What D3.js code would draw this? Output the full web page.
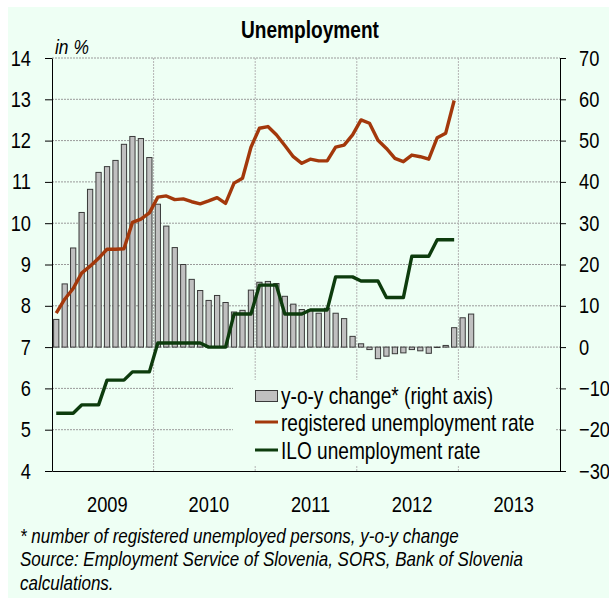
<!DOCTYPE html>
<html>
<head>
<meta charset="utf-8">
<script src="https://cdn.jsdelivr.net/npm/d3@7"></script>
<style>
  body { margin: 0; background: #fff; }
  svg text { font-family: "Liberation Sans", Arial, sans-serif; fill: #000; }
</style>
</head>
<body>
<svg id="chart" width="609" height="598"></svg>
<script>
(function() {
  'use strict';

  // monthly observations, Jan 2009 onwards
  var years = ['2009', '2010', '2011', '2012', '2013'];
  var yoyChange = [6.7, 15.3, 24.0, 32.6, 38.2, 42.3, 43.7, 45.2, 49.1, 51.0, 50.5, 45.9,
    34.6, 29.3, 24.1, 20.0, 16.4, 13.7, 11.3, 12.5, 10.8, 8.5, 8.9, 13.8,
    15.7, 15.9, 15.4, 12.3, 10.4, 9.1, 9.0, 8.2, 9.4, 8.2, 6.9, 2.6,
    0.8, -0.6, -2.8, -2.2, -1.6, -1.4, -0.6, -0.9, -1.5, -0.1, 0.4, 4.7,
    7.1, 8.0];
  var registeredRate = [7.82, 8.16, 8.42, 8.79, 8.96, 9.15, 9.37, 9.37, 9.38, 10.02, 10.10, 10.25,
    10.63, 10.66, 10.57, 10.59, 10.52, 10.47, 10.54, 10.62, 10.48, 10.97, 11.09, 11.84,
    12.30, 12.34, 12.14, 11.88, 11.61, 11.45, 11.55, 11.51, 11.51, 11.84, 11.89, 12.14,
    12.50, 12.42, 12.01, 11.81, 11.57, 11.49, 11.65, 11.61, 11.55, 12.07, 12.18, 12.97];
  var iloRate = [5.4, 5.4, 5.4, 5.6, 5.6, 5.6, 6.2, 6.2, 6.2, 6.4, 6.4, 6.4,
    7.1, 7.1, 7.1, 7.1, 7.1, 7.1, 7.0, 7.0, 7.0, 7.8, 7.8, 7.8,
    8.5, 8.5, 8.5, 7.8, 7.8, 7.8, 7.9, 7.9, 7.9, 8.7, 8.7, 8.7,
    8.6, 8.6, 8.6, 8.2, 8.2, 8.2, 9.2, 9.2, 9.2, 9.6, 9.6, 9.6];
  var legendLabels = ['y-o-y change* (right axis)', 'registered unemployment rate', 'ILO unemployment rate'];
  var footnotes = ['* number of registered unemployed persons, y-o-y change',
    'Source: Employment Service of Slovenia, SORS, Bank of Slovenia',
    'calculations.'];

  var colors = { bg: '#eefff4', bar: '#c0c0c0', barStroke: '#3a3a3a', reg: '#a3380b', ilo: '#0d3c0d', grid: '#9a9a9a' };
  var plot = { left: 52, right: 560, top: 58, bottom: 471 };
  var SQ = 0.83; // the original uses a narrow face, so squeeze text horizontally

  function squeeze(sel) {
    sel.each(function() {
      var t = d3.select(this);
      var x0 = +t.attr('x') || 0;
      var dx = parseFloat(t.attr('dx')) || 0;
      t.attr('x', x0 / SQ).attr('dx', dx / SQ).attr('transform', 'scale(' + SQ + ',1)');
    });
  }

  var svg = d3.select('#chart');
  svg.append('rect').attr('x', 8).attr('y', 7).attr('width', 601).attr('height', 591).attr('fill', colors.bg);

  var x = d3.scaleLinear().domain([0, 60]).range([plot.left, plot.right]);
  var yLeft = d3.scaleLinear().domain([4, 14]).range([plot.bottom, plot.top]);
  var yRight = d3.scaleLinear().domain([-30, 70]).range([plot.bottom, plot.top]);
  var step = x(1) - x(0);
  var barW = step * 0.62;

  // grid
  var grid = svg.append('g');
  grid.selectAll('.hgrid').data(d3.range(5, 15)).enter().append('line')
    .attr('x1', plot.left).attr('x2', plot.right)
    .attr('y1', function(d) { return yLeft(d); }).attr('y2', function(d) { return yLeft(d); })
    .attr('stroke', colors.grid).attr('stroke-width', 1).attr('stroke-dasharray', '2,1');
  grid.selectAll('.vgrid').data([12, 24, 36, 48]).enter().append('line')
    .attr('x1', function(d) { return x(d); }).attr('x2', function(d) { return x(d); })
    .attr('y1', plot.top).attr('y2', plot.bottom)
    .attr('stroke', '#b4b4b4').attr('stroke-width', 1).attr('stroke-dasharray', '2,1');

  // bars
  svg.append('g').selectAll('rect').data(yoyChange).enter().append('rect')
    .attr('x', function(d, i) { return x(i + 0.5) - barW / 2; })
    .attr('y', function(d) { return yRight(Math.max(0, d)); })
    .attr('width', barW)
    .attr('height', function(d) { return Math.abs(yRight(d) - yRight(0)); })
    .attr('fill', colors.bar).attr('stroke', colors.barStroke).attr('stroke-width', 1);

  var line = d3.line()
    .x(function(d, i) { return x(i + 0.5); })
    .y(function(d) { return yLeft(d); });

  svg.append('path').datum(iloRate).attr('d', line)
    .attr('fill', 'none').attr('stroke', colors.ilo).attr('stroke-width', 3.4).attr('stroke-linejoin', 'round');
  svg.append('path').datum(registeredRate).attr('d', line)
    .attr('fill', 'none').attr('stroke', colors.reg).attr('stroke-width', 3.4).attr('stroke-linejoin', 'round');

  // axes
  var axisLeft = svg.append('g').attr('transform', 'translate(' + plot.left + ',0)')
    .call(d3.axisLeft(yLeft).tickValues(d3.range(4, 15)).tickSize(7).tickSizeOuter(0).tickPadding(14));
  var axisRight = svg.append('g').attr('transform', 'translate(' + plot.right + ',0)')
    .call(d3.axisRight(yRight).tickValues(d3.range(-30, 71, 10)).tickSize(6).tickSizeOuter(0).tickPadding(13));
  var axisBottom = svg.append('g').attr('transform', 'translate(0,' + plot.bottom + ')')
    .call(d3.axisBottom(x).tickValues([6, 18, 30, 42, 54]).tickSize(0).tickPadding(25)
      .tickFormat(function(d, i) { return years[i]; }));
  axisBottom.selectAll('text').attr('dx', 4);
  [axisLeft, axisRight, axisBottom].forEach(function(a) {
    a.selectAll('text').style('font-size', '22px').attr('fill', '#000').call(squeeze);
    a.select('.domain').attr('stroke', '#000');
  });

  // legend
  var legend = svg.append('g');
  legend.append('rect').attr('x', 233).attr('y', 380).attr('width', 322).attr('height', 86).attr('fill', colors.bg);
  legend.append('rect').attr('x', 255.5).attr('y', 390.5).attr('width', 22).attr('height', 11)
    .attr('fill', colors.bar).attr('stroke', colors.barStroke);
  legend.append('line').attr('x1', 255).attr('x2', 278).attr('y1', 422).attr('y2', 422)
    .attr('stroke', colors.reg).attr('stroke-width', 3);
  legend.append('line').attr('x1', 255).attr('x2', 278).attr('y1', 450).attr('y2', 450)
    .attr('stroke', colors.ilo).attr('stroke-width', 3);
  legend.selectAll('text').data(legendLabels).enter().append('text')
    .attr('x', 281).attr('y', function(d, i) { return 404 + i * 27.5; })
    .style('font-size', '23px').text(function(d) { return d; })
    .call(squeeze);

  // titles and notes
  svg.append('text').attr('x', 310).attr('y', 38).attr('text-anchor', 'middle')
    .style('font-size', '23px').style('font-weight', 'bold').text('Unemployment')
    .call(squeeze);
  svg.append('text').attr('x', 55).attr('y', 54)
    .style('font-size', '21px').style('font-style', 'italic').text('in %')
    .call(squeeze);
  svg.selectAll('.note').data(footnotes).enter().append('text')
    .attr('x', 20).attr('y', function(d, i) { return 543 + i * 23.5; })
    .style('font-size', '20.5px').style('font-style', 'italic').text(function(d) { return d; })
    .call(squeeze);
})();
</script>
</body>
</html>
